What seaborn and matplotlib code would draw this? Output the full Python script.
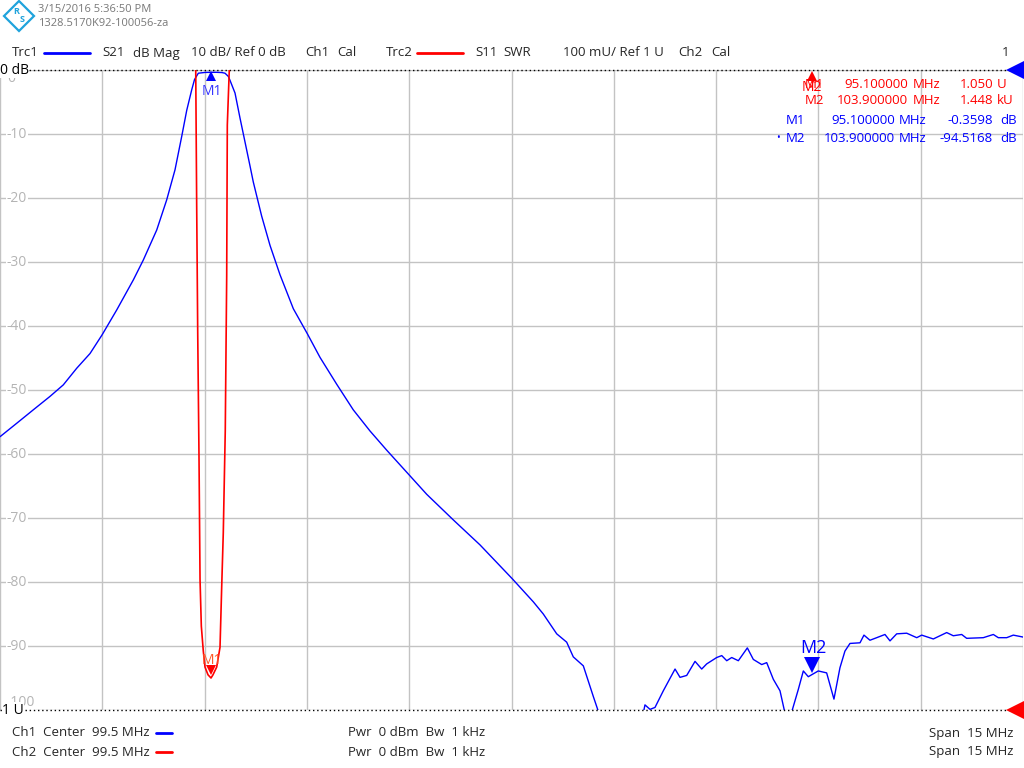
import numpy as np
import pandas as pd
import matplotlib
matplotlib.use("Agg")
import matplotlib.pyplot as plt
import seaborn as sns
from matplotlib.lines import Line2D
from matplotlib.patches import Polygon

# S21 trace (Trc1), dB Mag
s21_freq = [92.000, 92.245, 92.488, 92.733, 92.928, 93.125, 93.320, 93.496, 93.711, 93.955,
            94.101, 94.298, 94.444, 94.566, 94.664, 94.738, 94.811, 94.852, 94.908, 95.006,
            95.094, 95.177, 95.255, 95.299, 95.348, 95.372, 95.446, 95.519, 95.568, 95.666,
            95.714, 95.836, 95.959, 96.106, 96.301, 96.506, 96.692, 96.937, 97.180, 97.425,
            97.670, 98.002, 98.257, 98.647, 99.038, 99.512, 99.820, 99.966, 100.163, 100.309,
            100.406, 100.553, 100.700, 100.798, 101.091, 101.385, 101.457, 101.531, 101.604, 101.726,
            101.898, 101.971, 102.069, 102.191, 102.289, 102.362, 102.509, 102.583, 102.656, 102.729,
            102.826, 102.958, 103.046, 103.169, 103.242, 103.339, 103.437, 103.510, 103.554, 103.617,
            103.705, 103.779, 103.852, 103.900, 103.998, 104.121, 104.228, 104.316, 104.389, 104.463,
            104.610, 104.668, 104.756, 104.855, 104.976, 105.050, 105.148, 105.295, 105.442, 105.515,
            105.685, 105.881, 105.978, 106.101, 106.174, 106.418, 106.565, 106.638, 106.761, 106.858,
            107.000]
s21_db = [-57.3, -55.2, -53.1, -51.0, -49.2, -46.6, -44.3, -41.4, -37.5, -32.8,
          -29.7, -25.0, -20.3, -15.6, -10.4, -6.3, -3.1, -1.5, -0.5, -0.38,
          -0.36, -0.36, -0.4, -0.5, -1.0, -1.6, -3.6, -7.5, -10.0, -15.0,
          -17.5, -22.8, -27.4, -32.0, -37.3, -41.2, -44.9, -49.1, -53.1, -56.4,
          -59.4, -63.3, -66.3, -70.3, -74.2, -79.5, -83.1, -85.0, -88.1, -89.4,
          -91.7, -93.1, -97.9, -101.0, -106.0, -103.0, -99.2, -99.9, -99.6, -97.0,
          -93.6, -94.9, -94.6, -92.4, -93.6, -92.8, -91.8, -91.5, -92.3, -91.8,
          -92.3, -90.3, -92.1, -92.9, -92.6, -95.2, -97.0, -100.5, -103.0, -100.0,
          -96.8, -93.9, -94.8, -94.5, -93.9, -94.2, -98.3, -93.4, -90.8, -89.6,
          -89.5, -88.3, -89.1, -88.7, -88.2, -89.2, -88.1, -88.0, -88.7, -88.3,
          -88.9, -87.9, -88.4, -88.2, -88.8, -88.7, -88.2, -88.7, -88.7, -88.3,
          -88.6]

# S11 trace (Trc2), SWR
s11_freq = [92.000, 94.786, 94.864, 94.870, 94.884, 94.899, 94.918, 94.933, 94.952, 94.981,
            95.006, 95.050, 95.094, 95.123, 95.177, 95.226, 95.250, 95.274, 95.303, 95.324,
            95.333, 95.362, 95.372, 95.519, 107.000]
s11_swr = [30.0, 2.6, 2.05, 2.0, 1.787, 1.59, 1.395, 1.204, 1.131, 1.092,
           1.067, 1.055, 1.050, 1.055, 1.067, 1.098, 1.19, 1.277, 1.436, 1.678,
           1.914, 2.0, 2.05, 2.8, 30.0]

db_ticks = [0, -10, -20, -30, -40, -50, -60, -70, -80, -90, -100]

BLUE = "#0000ff"
RED = "#ff0000"
GRID = "#c3c3c3"
FONT = ["Open Sans", "DejaVu Sans"]

sns.set_theme(style="white")
plt.rcParams["font.family"] = FONT

W, H = 1024, 768
fig = plt.figure(figsize=(W / 100, H / 100), dpi=100)


def fx(x):
    return x / W


def fy(y):
    return 1 - y / H


ax = fig.add_axes([0, fy(710), 1023 / W, 640 / H])
ax.set_xlim(92, 107)
ax.set_ylim(-100, 0)
ax.set_xticks(np.arange(92, 107.01, 1.5))
ax.set_yticks(np.arange(-100, 0.1, 10))
ax.grid(True, color=GRID, lw=1)
ax.tick_params(length=0, labelleft=False, labelbottom=False)
for s in ax.spines.values():
    s.set_visible(False)
ax.axhline(0, color="black", lw=1, ls=(0, (1, 2)), clip_on=False, zorder=5)
ax.axhline(-100, color="black", lw=1, ls=(0, (1, 2)), clip_on=False, zorder=5)

df1 = pd.DataFrame({"freq": s21_freq, "db": s21_db})
sns.lineplot(data=df1, x="freq", y="db", ax=ax, color=BLUE, lw=1.0, sort=False)
ax.set_xlabel("")
ax.set_ylabel("")

# y labels drawn inside the grid
for v in db_ticks:
    yv = v
    if v == 0:
        yv = -1.3
    if v == -100:
        yv = -98.8
    ax.text(92.1, yv, f"{v}", color="#b4b4b4", fontsize=10, va="center", ha="left",
            bbox=dict(facecolor="white", edgecolor="none", pad=0.5), zorder=4)

ax2 = ax.twinx()
ax2.set_ylim(1, 2)
ax2.set_yticks([])
for s in ax2.spines.values():
    s.set_visible(False)
df2 = pd.DataFrame({"freq": s11_freq, "swr": s11_swr})
sns.lineplot(data=df2, x="freq", y="swr", ax=ax2, color=RED, lw=1.2, sort=False)
ax2.set_ylabel("")

# markers on traces
ax.plot([95.1], [-0.95], marker="^", ms=7, color=BLUE, mew=0, zorder=6)
ax.text(95.1, -3.3, "M1", color="#3535ff", fontsize=10, ha="center", va="center", zorder=6)
ax.plot([103.9], [-93.0], marker="v", ms=12, color=BLUE, mew=0, zorder=6)
ax.text(103.93, -90.3, "M2", color=BLUE, fontsize=13, ha="center", va="center", zorder=6)
ax2.plot([95.1], [1.062], marker="v", ms=7, color=RED, mew=0, zorder=6)
ax2.text(95.1, 1.078, "M1", color="#ff5a2a", fontsize=10, ha="center", va="center", zorder=6)
ax2.plot([103.9], [1.991], marker="^", ms=7, color=RED, mew=0, zorder=6, clip_on=False)
ax2.text(103.9, 1.972, "M2", color=RED, fontsize=10, ha="center", va="center", zorder=6)

# reference arrows at right edge
ax.plot([106.88], [0], marker="<", ms=13, color=BLUE, mew=0, clip_on=False, zorder=7)
ax.plot([106.88], [-100], marker="<", ms=13, color=RED, mew=0, clip_on=False, zorder=7)

# scale labels
fig.text(fx(0), fy(70), "0 dB", fontsize=10, color="black", va="center", ha="left",
         bbox=dict(facecolor="white", edgecolor="none", pad=0.3), zorder=8)
fig.text(fx(2), fy(710), "1 U", fontsize=10, color="black", va="center", ha="left",
         bbox=dict(facecolor="white", edgecolor="none", pad=0.3), zorder=8)

# logo
logo = Polygon([(fx(19), fy(1)), (fx(34), fy(16)), (fx(19), fy(31)), (fx(4), fy(16))],
               closed=True, fill=False, edgecolor="#1fa3dc", lw=1.6, transform=fig.transFigure)
fig.add_artist(logo)
fig.text(fx(16), fy(12), "R", color="#1fa3dc", fontsize=6.5, ha="center", va="center", weight="bold")
fig.text(fx(22), fy(20), "S", color="#1fa3dc", fontsize=6.5, ha="center", va="center", weight="bold")
fig.text(fx(38), fy(10), "3/15/2016 5:36:50 PM", color="#787878", fontsize=8, va="center")
fig.text(fx(38), fy(24), "1328.5170K92-100056-za", color="#787878", fontsize=8, va="center")

# trace header
hdr_y = fy(53)
header_parts = [(12, "Trc1"), (102, "S21"), (133, "dB Mag"), (191, "10 dB/ Ref 0 dB"),
                (305, "Ch1"), (337, "Cal"), (386, "Trc2"), (475, "S11"), (503, "SWR"),
                (563, "100 mU/ Ref 1 U"), (678, "Ch2"), (711, "Cal"), (1002, "1")]
for x, t in header_parts:
    fig.text(fx(x), hdr_y, t, fontsize=9.5, va="center")
fig.add_artist(Line2D([fx(44), fx(90)], [hdr_y, hdr_y], color=BLUE, lw=2))
fig.add_artist(Line2D([fx(417), fx(463)], [hdr_y, hdr_y], color=RED, lw=2))

# marker table
marker_rows = [
    (84, RED, "", "M1", "95.100000", "MHz", "1.050", "U"),
    (101, RED, "", "M2", "103.900000", "MHz", "1.448", "kU"),
    (120, BLUE, "", "M1", "95.100000", "MHz", "-0.3598", "dB"),
    (139, BLUE, "\u2022", "M2", "103.900000", "MHz", "-94.5168", "dB"),
]
for y, col, dot, name, freq, unit, val, vunit in marker_rows:
    if col == RED:
        xs = (805, 908, 913, 993, 997)
    else:
        xs = (786, 895, 899, 993, 1000)
    kw = dict(fontsize=9.5, color=col, va="center")
    if dot:
        fig.text(fx(776), fy(y), dot, fontsize=7, color=col, va="center")
    fig.text(fx(xs[0]), fy(y), name, **kw)
    fig.text(fx(xs[1]), fy(y), freq, ha="right", **kw)
    fig.text(fx(xs[2]), fy(y), unit, **kw)
    fig.text(fx(xs[3]), fy(y), val, ha="right", **kw)
    fig.text(fx(xs[4]), fy(y), vunit, **kw)

# channel footer
for y, ch, col in [(733, "Ch1", BLUE), (752, "Ch2", RED)]:
    fig.text(fx(12), fy(y), f"{ch}  Center  99.5 MHz", fontsize=9.5, va="center")
    fig.add_artist(Line2D([fx(156), fx(172)], [fy(y), fy(y)], color=col, lw=2))
    fig.text(fx(348), fy(y), "Pwr  0 dBm  Bw  1 kHz", fontsize=9.5, va="center")
    fig.text(fx(1013), fy(y), "Span  15 MHz", fontsize=9.5, va="center", ha="right")

fig.savefig("out.png", dpi=100)
